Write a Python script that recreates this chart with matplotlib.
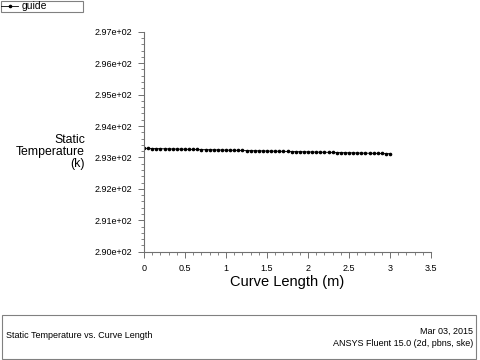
import matplotlib
matplotlib.use("Agg")
import matplotlib.pyplot as plt
from matplotlib.ticker import AutoMinorLocator, FormatStrFormatter
from matplotlib.patches import Rectangle

plt.rcParams['font.family'] = ['Liberation Sans', 'DejaVu Sans']

# curve length (m) and static temperature (k)
curve_length = [0.00, 0.05, 0.10, 0.15, 0.20, 0.25, 0.30, 0.35, 0.40, 0.45,
                0.50, 0.55, 0.60, 0.65, 0.70, 0.75, 0.80, 0.85, 0.90, 0.95,
                1.00, 1.05, 1.10, 1.15, 1.20, 1.25, 1.30, 1.35, 1.40, 1.45,
                1.50, 1.55, 1.60, 1.65, 1.70, 1.75, 1.80, 1.85, 1.90, 1.95,
                2.00, 2.05, 2.10, 2.15, 2.20, 2.25, 2.30, 2.35, 2.40, 2.45,
                2.50, 2.55, 2.60, 2.65, 2.70, 2.75, 2.80, 2.85, 2.90, 2.95,
                3.00]
temperature = [293.290, 293.287, 293.284, 293.282, 293.279, 293.276, 293.273, 293.270,
               293.267, 293.265, 293.262, 293.259, 293.256, 293.253, 293.250, 293.248,
               293.245, 293.242, 293.239, 293.236, 293.233, 293.231, 293.228, 293.225,
               293.222, 293.219, 293.216, 293.214, 293.211, 293.208, 293.205, 293.202,
               293.199, 293.197, 293.194, 293.191, 293.188, 293.185, 293.182, 293.180,
               293.177, 293.174, 293.171, 293.168, 293.165, 293.163, 293.160, 293.157,
               293.154, 293.151, 293.148, 293.146, 293.143, 293.140, 293.137, 293.134,
               293.131, 293.129, 293.126, 293.123, 293.120]

x_ticks = [0, 0.5, 1, 1.5, 2, 2.5, 3, 3.5]
y_ticks = [290, 291, 292, 293, 294, 295, 296, 297]

fig = plt.figure(figsize=(4.8, 3.6), dpi=100)
ax = fig.add_axes([0.3, 0.3008, 0.598, 0.611])

ax.plot(curve_length, temperature, color="black", lw=0.6, marker="o",
        markersize=1.6, label="guide")

ax.set_xlim(0, 3.5)
ax.set_ylim(290, 297)
ax.set_xticks(x_ticks)
ax.set_yticks(y_ticks)
ax.xaxis.set_major_formatter(FormatStrFormatter('%g'))
ax.yaxis.set_major_formatter(FormatStrFormatter('%.2e'))
ax.xaxis.set_minor_locator(AutoMinorLocator(5))
ax.yaxis.set_minor_locator(AutoMinorLocator(5))

for side in ["top", "right"]:
    ax.spines[side].set_visible(False)
for side in ["left", "bottom"]:
    ax.spines[side].set_color("#707070")
    ax.spines[side].set_linewidth(0.8)

ax.tick_params(which="major", length=4.5, width=0.7, color="#707070",
               labelsize=6.5, pad=4)
ax.tick_params(which="minor", length=2.2, width=0.6, color="#707070")
ax.tick_params(axis="x", pad=4)

ax.set_xlabel("Curve Length (m)", fontsize=10.5, labelpad=2)
fig.text(85 / 480, 1 - 152 / 360, "Static\nTemperature\n(k)", fontsize=8.8,
         ha="right", va="center", multialignment="right", linespacing=1.0)

fig.legend(loc="upper left", bbox_to_anchor=(0.002, 0.998, 0.17, 0), mode="expand",
           fancybox=False, edgecolor="#808080", framealpha=1, fontsize=7.5,
           handlelength=1.6, handletextpad=0.3, borderpad=0.05, borderaxespad=0)
fig.legends[0].get_frame().set_linewidth(0.8)

fig.patches.append(Rectangle((0.004, 0.003), 0.9875, 0.122, transform=fig.transFigure,
                             fill=False, edgecolor="#808080", lw=0.8))
fig.text(0.0125, 1 - 336 / 360, "Static Temperature vs. Curve Length",
         fontsize=6.5, ha="left", va="center")
fig.text(0.985, 1 - 331 / 360, "Mar 03, 2015", fontsize=6.5, ha="right", va="center")
fig.text(0.985, 1 - 343 / 360, "ANSYS Fluent 15.0 (2d, pbns, ske)", fontsize=6.5,
         ha="right", va="center")

fig.savefig("out.png", dpi=100)
